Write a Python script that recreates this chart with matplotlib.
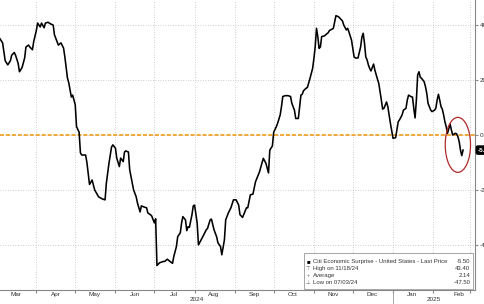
import numpy as np
import matplotlib
matplotlib.use("Agg")
import matplotlib.pyplot as plt
import matplotlib.dates as mdates
from matplotlib.patches import Ellipse, Rectangle

# Citi Economic Surprise Index - United States
start = np.datetime64("2024-03-04")
# days since start
day = [0, 2, 4, 6, 8, 9, 11, 12, 14, 15, 17, 19, 20, 22, 23, 25, 26, 28, 29, 31,
       32, 34, 35, 37, 39, 41, 42, 45, 47, 49, 50, 52, 53, 55, 56, 58, 59, 61, 62, 63,
       66, 67, 69, 71, 73, 76, 79, 81, 82, 84, 86, 87, 89, 90, 92, 93, 95, 96, 97, 99,
       100, 103, 105, 106, 108, 109, 111, 113, 114, 116, 117, 119, 120, 121, 123, 126, 127, 129, 131, 133,
       134, 136, 137, 139, 140, 141, 143, 144, 145, 146, 148, 149, 150, 152, 153, 155, 157, 159, 160, 162,
       163, 165, 167, 168, 170, 171, 173, 174, 176, 178, 180, 182, 184, 185, 187, 190, 191, 193, 195, 197,
       200, 203, 205, 207, 208, 210, 211, 213, 214, 216, 217, 218, 220, 222, 224, 225, 227, 228, 230, 231,
       232, 233, 234, 236, 237, 239, 241, 242, 243, 244, 245, 246, 247, 248, 250, 251, 253, 254, 256, 257,
       258, 259, 261, 264, 265, 267, 268, 269, 271, 272, 273, 274, 276, 278, 279, 280, 281, 282, 283, 284,
       285, 286, 288, 289, 291, 292, 293, 294, 295, 296, 298, 299, 300, 301, 303, 305, 306, 307, 308, 310,
       311, 313, 314, 315, 317, 318, 319, 320, 321, 322, 323, 324, 325, 327, 328, 329, 330, 331, 332, 333,
       335, 336, 337, 338, 339, 340, 341, 342, 343, 344, 345, 347, 348, 349, 351, 352, 353, 354, 355, 356,
       357]
cesi = [35, 33.5, 27, 25.5, 27, 29, 30, 29, 26, 23, 24.5, 28, 32, 32.7, 32, 31, 34, 38, 40.7, 39.3,
        40.7, 39, 40.7, 41, 40.4, 40, 36.4, 32.7, 33.5, 31.6, 28.4, 20.7, 19, 13.8, 14.5, 11, 3, 1, -6.5, -7.3,
        -7.3, -10, -18, -16.4, -20, -22.5, -23.3, -23.6, -17.5, -10.3, -4.4, -3.6, -4.8, -8.4, -11.5, -8.4, -9.7, -6.2, -5.8, -6.2,
        -12.7, -20, -22.5, -24.8, -28, -25.8, -26.2, -26.5, -28.4, -29, -29.5, -32, -30.5, -47.5, -46.5, -46, -46, -45.2, -46, -46.7,
        -44.2, -40.6, -37, -35.6, -32, -29.7, -30.9, -34.8, -33.4, -33.6, -29, -25.8, -25.5, -32, -40, -38.2, -36.4, -34.5, -34, -30.9,
        -30.6, -34.5, -37, -39.2, -40.6, -43.6, -38.2, -30.9, -28.4, -26.5, -23.6, -23.6, -25.5, -29, -30, -26.5, -26.5, -21.8, -21.5, -17,
        -13.5, -8.5, -10.3, -13.8, -5.5, -4, 1, 3, 4.2, 7.3, 10.3, 14, 14.3, 14.3, 14, 11.5, 9, 6, 6, 10.3,
        14.5, 14.8, 16.1, 17, 17.3, 20.6, 24.2, 27.8, 32, 38.8, 35.8, 31.5, 32, 35.8, 36, 36.4, 37.2, 38, 38.5, 38.8,
        41.2, 43.4, 43, 41.5, 40, 38.2, 38.8, 37.5, 34.5, 31.5, 28.4, 28, 28, 32, 35.6, 37, 33.4, 28.4, 27.3, 25.5,
        24.2, 23.3, 25.8, 23.6, 20.3, 18.8, 15.8, 12.7, 9.4, 9.7, 12, 10.3, 7.3, 4.2, -1.2, -1.0, 1.8, 4.8, 5.5, 7.3,
        9, 9.7, 12.7, 14.5, 13.9, 13.8, 9.7, 6.2, 12.7, 21.8, 23, 21, 20.6, 19.4, 17.6, 15.2, 11.5, 10.3, 9.1, 8.5,
        9, 9.7, 12.7, 14.8, 12.7, 10.3, 9.4, 7.3, 4.8, 3, 0.6, 4, 1.8, 0, 0.6, 0.4, -0.6, -2.4, -5.5, -7.5,
        -5.5]

month_labels = ["Mar", "Apr", "May", "Jun", "Jul", "Aug", "Sep", "Oct", "Nov", "Dec", "Jan", "Feb"]
month_label_dates = ["2024-03-16", "2024-04-16", "2024-05-16", "2024-06-16", "2024-07-16",
                     "2024-08-16", "2024-09-16", "2024-10-16", "2024-11-16", "2024-12-16", "2025-01-16",
                     "2025-02-21"]
y_ticks = [-40, -20, 0, 20, 40]
legend_rows = [("■", "Citi Economic Surprise - United States - Last Price", "-5.50"),
               ("⊤", "High on 11/18/24", "43.40"),
               ("+", "Average", "2.14"),
               ("⊥", "Low on 07/03/24", "-47.50")]
last_price = -5.50

plt.rcParams["font.family"] = ["Liberation Sans", "DejaVu Sans"]

dates = start + np.array(day, dtype="timedelta64[D]")

fig = plt.figure(figsize=(4.85, 3.04), dpi=100)
ax = fig.add_axes([0, 14 / 304, 475 / 485, 290 / 304])

ax.plot(dates, cesi, color="black", lw=1.15, zorder=3)
ax.axhline(0, color="#f0a22a", lw=1.3, ls=(0, (2.2, 1.1)), zorder=2)

# month starts: gridlines + ticks; mid-month: labels
ax.xaxis.set_major_locator(mdates.MonthLocator())
ax.xaxis.set_major_formatter(plt.NullFormatter())
ax.set_xticks(mdates.date2num(np.array(month_label_dates, dtype="datetime64[D]")), minor=True)
ax.set_xticklabels(month_labels, minor=True)
ax.tick_params(axis="x", which="major", length=2, color="#888888")
ax.tick_params(axis="x", which="minor", length=0, pad=1.5, labelsize=4.6, labelcolor="#333333")

# limits after the ticks: set_xticks can widen the view
x0 = mdates.date2num(start)
ax.set_xlim(x0, x0 + 366.2)
ax.set_ylim(-56.4, 49.1)

# the previous month's label, mostly off the left edge
ax.text(x0 - 4.5, -0.008, "Feb", transform=ax.get_xaxis_transform(), ha="center", va="top",
        fontsize=4.6, color="#333333", clip_on=False)

ax.yaxis.tick_right()
ax.set_yticks(y_ticks)
ax.set_yticklabels([str(v) for v in y_ticks])
ax.tick_params(axis="y", length=2, pad=1.5, labelsize=4.6, labelcolor="#333333", color="#888888")

ax.grid(True, which="major", color="#bdbdbd", lw=0.6, ls=(0, (1, 2)))

for s in ["left", "top"]:
    ax.spines[s].set_visible(False)
for s in ["right", "bottom"]:
    ax.spines[s].set_color("#888888")
    ax.spines[s].set_linewidth(0.8)

# year labels centred on the visible part of each year
jan25 = mdates.date2num(np.datetime64("2025-01-01"))
xmin, xmax = ax.get_xlim()
ax.text((xmin + jan25) / 2, -0.034, "2024", transform=ax.get_xaxis_transform(),
        ha="center", va="center", fontsize=4.6, color="#333333")
ax.text((jan25 + xmax) / 2, -0.034, "2025", transform=ax.get_xaxis_transform(),
        ha="center", va="center", fontsize=4.6, color="#333333")
ax.plot([jan25, jan25], [0, -0.06], transform=ax.get_xaxis_transform(),
        color="#999999", lw=0.6, clip_on=False)

# last price tag
ax.text(1.006, last_price, "-5.50", transform=ax.get_yaxis_transform(), ha="left", va="center",
        fontsize=4.6, color="white", fontweight="bold",
        bbox=dict(boxstyle="round,pad=0.25", fc="black", ec="black"), clip_on=False)

# red highlight around the latest move
ell = Ellipse((mdates.date2num(np.datetime64("2025-02-20")), -3.6), width=19.5, height=20,
              fill=False, ec="#b02a2a", lw=0.9, zorder=4)
ax.add_patch(ell)

# legend box
ax.add_patch(Rectangle((0.64, 0.004), 0.356, 0.124, transform=ax.transAxes,
                       fc="white", ec="#999999", lw=0.6, zorder=5))
row_y = [0.097, 0.073, 0.050, 0.027]
for (sym, label, val), yy in zip(legend_rows, row_y):
    ax.text(0.649, yy, sym, transform=ax.transAxes, ha="center", va="center",
            fontsize=4.3 if sym == "■" else 3.8, color="black" if sym == "■" else "#666666", zorder=6)
    ax.text(0.659, yy, label, transform=ax.transAxes, ha="left", va="center",
            fontsize=4.3, color="#333333", zorder=6)
    ax.text(0.99, yy, val, transform=ax.transAxes, ha="right", va="center",
            fontsize=4.3, color="#333333", zorder=6)

ax.set_xlim(x0, x0 + 366.2)
fig.savefig("out.png", dpi=100)
